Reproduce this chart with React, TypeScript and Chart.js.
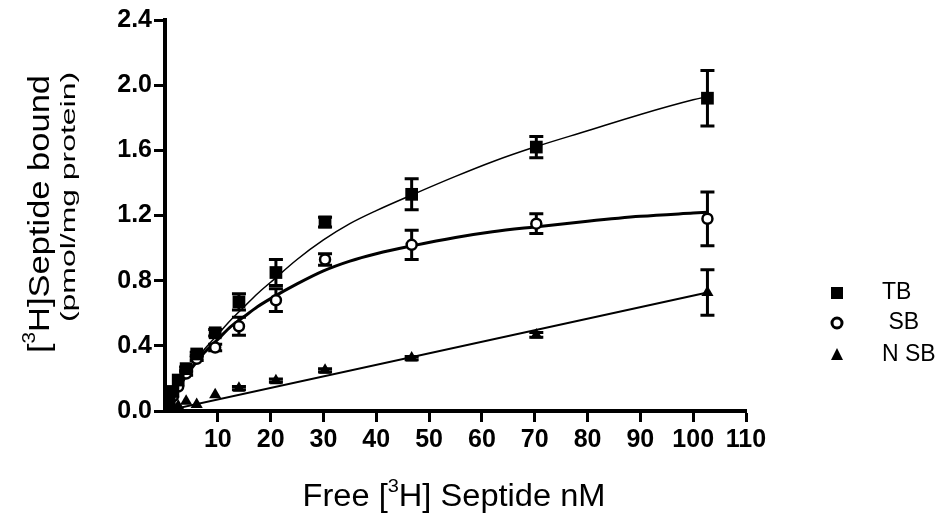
import React, { useEffect, useRef } from "react";
import { Chart, registerables } from "chart.js";

Chart.register(...registerables);

// ---- data ----
const xValues = [0.3, 0.8, 1.5, 2.5, 4, 6, 9.5, 14, 21, 30.3, 46.7, 70.3, 102.7];
const tbValues = [0.02, 0.06, 0.12, 0.19, 0.26, 0.35, 0.48, 0.67, 0.85, 1.16, 1.33, 1.62, 1.92];
const tbErrors = [0, 0, 0, 0, 0.01, 0.01, 0.02, 0.05, 0.08, 0.03, 0.095, 0.065, 0.17];
const sbValues = [0.01, 0.04, 0.09, 0.15, 0.23, 0.32, 0.39, 0.52, 0.68, 0.93, 1.02, 1.15, 1.18];
const sbErrors = [0, 0, 0, 0, 0.01, 0.01, 0.02, 0.055, 0.07, 0.035, 0.09, 0.06, 0.165];
const nsbValues = [0.005, 0.01, 0.02, 0.03, 0.06, 0.04, 0.1, 0.14, 0.186, 0.25, 0.325, 0.467, 0.727];
const nsbErrors = [0, 0, 0, 0, 0, 0, 0, 0.01, 0.01, 0.01, 0.01, 0.015, 0.14];

// fitted curves
const tbCurveX = [0, 1, 2, 3.5, 5, 7.5, 10, 12.5, 15, 17.5, 20, 25, 30, 35, 40, 47, 55, 62, 70, 80, 90, 100, 102.7];
const tbCurveY = [0, 0.06, 0.12, 0.2, 0.27, 0.38, 0.47, 0.56, 0.64, 0.72, 0.79, 0.93, 1.05, 1.15, 1.23, 1.33, 1.44, 1.53, 1.62, 1.72, 1.82, 1.91, 1.93];
const sbCurveX = [0, 1, 2, 3.5, 5, 7.5, 10, 12.5, 15, 17.5, 20, 25, 30, 35, 40, 47, 55, 62, 70, 80, 90, 100, 102.7];
const sbCurveY = [0, 0.06, 0.11, 0.19, 0.26, 0.36, 0.44, 0.52, 0.58, 0.64, 0.69, 0.78, 0.86, 0.92, 0.965, 1.015, 1.065, 1.1, 1.13, 1.165, 1.195, 1.215, 1.22];
const nsbLineX = [0, 102.7];
const nsbLineY = [0, 0.727];

const xTicks = [10, 20, 30, 40, 50, 60, 70, 80, 90, 100, 110];
const yTicks = [0, 0.4, 0.8, 1.2, 1.6, 2.0, 2.4];

const legendLabels = ["TB", " SB", "N SB"];
const xTitleParts = [{ t: "Free [" }, { t: "3", sup: true }, { t: "H] Septide nM" }];
const yTitleParts = [{ t: "[" }, { t: "3", sup: true }, { t: "H]Septide bound" }];
const yTitleSub = "(pmol/mg protein)";

const FONT = "'Liberation Sans', Arial, sans-serif";
const TICK_FONT = "'Liberation Sans Narrow', 'Liberation Sans', Arial, sans-serif";

type Part = { t: string; sup?: boolean };

function drawParts(ctx: CanvasRenderingContext2D, parts: Part[], size: number, targetLen: number) {
  const supSize = Math.round(size * 0.6);
  let total = 0;
  const widths: number[] = [];
  for (const p of parts) {
    ctx.font = `${p.sup ? supSize : size}px ${FONT}`;
    const w = ctx.measureText(p.t).width;
    widths.push(w);
    total += w;
  }
  const sx = targetLen / total;
  ctx.scale(sx, 1);
  let x = -total / 2;
  ctx.textBaseline = "alphabetic";
  ctx.textAlign = "left";
  parts.forEach((p, i) => {
    ctx.font = `${p.sup ? supSize : size}px ${FONT}`;
    ctx.fillText(p.t, x, p.sup ? size * 0.35 - size * 0.45 : size * 0.35);
    x += widths[i];
  });
}

const decorPlugin = {
  id: "decor",
  beforeDatasetsDraw(chart: any) {
    const { ctx, scales } = chart;
    const xs = scales.x;
    const ys = scales.y;
    ctx.save();
    ctx.strokeStyle = "#000";
    ctx.lineWidth = 3;
    const series = [
      [tbValues, tbErrors],
      [sbValues, sbErrors],
      [nsbValues, nsbErrors],
    ];
    for (const [vals, errs] of series) {
      vals.forEach((v: number, i: number) => {
        const e = errs[i];
        if (!e) return;
        const px = xs.getPixelForValue(xValues[i]);
        const top = ys.getPixelForValue(v + e);
        const bot = ys.getPixelForValue(v - e);
        ctx.beginPath();
        ctx.moveTo(px, top);
        ctx.lineTo(px, bot);
        ctx.moveTo(px - 7, top);
        ctx.lineTo(px + 7, top);
        ctx.moveTo(px - 7, bot);
        ctx.lineTo(px + 7, bot);
        ctx.stroke();
      });
    }
    ctx.restore();
  },
  afterDraw(chart: any) {
    const { ctx } = chart;
    ctx.save();
    ctx.fillStyle = "#000";
    // x title
    ctx.save();
    ctx.translate(454, 495);
    drawParts(ctx, xTitleParts, 31, 303);
    ctx.restore();
    // y title
    ctx.save();
    ctx.translate(38, 214);
    ctx.rotate(-Math.PI / 2);
    drawParts(ctx, yTitleParts, 30, 278);
    ctx.restore();
    ctx.save();
    ctx.translate(68, 197);
    ctx.rotate(-Math.PI / 2);
    drawParts(ctx, [{ t: yTitleSub }], 21, 250);
    ctx.restore();

    // legend
    const lx = 837;
    const ly = [293, 323, 355];
    ctx.font = `23px ${FONT}`;
    ctx.textBaseline = "middle";
    ctx.textAlign = "left";
    legendLabels.forEach((lab, i) => {
      ctx.fillText(lab, 882, ly[i]);
    });
    ctx.fillRect(lx - 6, ly[0] - 6, 12, 12);
    ctx.beginPath();
    ctx.arc(lx, ly[1], 5, 0, Math.PI * 2);
    ctx.lineWidth = 3;
    ctx.strokeStyle = "#000";
    ctx.fillStyle = "#fff";
    ctx.fill();
    ctx.stroke();
    ctx.fillStyle = "#000";
    ctx.beginPath();
    ctx.moveTo(lx, ly[2] - 7);
    ctx.lineTo(lx + 6, ly[2] + 5);
    ctx.lineTo(lx - 6, ly[2] + 5);
    ctx.closePath();
    ctx.fill();
    ctx.restore();
  },
};

function pts(xa: number[], ya: number[]) {
  return xa.map((x, i) => ({ x, y: ya[i] }));
}

export default function App() {
  const ref = useRef<HTMLCanvasElement | null>(null);
  useEffect(() => {
    document.body.style.margin = "0";
    if (!ref.current) return;
    const chart = new Chart(ref.current, {
      type: "scatter",
      data: {
        datasets: [
          {
            label: "TB",
            data: pts(xValues, tbValues),
            pointStyle: "rect",
            pointRadius: 9,
            backgroundColor: "#000",
            borderColor: "#000",
            borderWidth: 0,
            showLine: false,
          },
          {
            label: "SB",
            data: pts(xValues, sbValues),
            pointStyle: "circle",
            pointRadius: 5,
            backgroundColor: "#fff",
            borderColor: "#000",
            borderWidth: 2.5,
            showLine: false,
          },
          {
            label: "NSB",
            data: pts(xValues, nsbValues),
            pointStyle: "triangle",
            pointRadius: 7,
            backgroundColor: "#000",
            borderColor: "#000",
            borderWidth: 0,
            showLine: false,
          },
          {
            label: "TB fit",
            data: pts(tbCurveX, tbCurveY),
            showLine: true,
            pointRadius: 0,
            borderColor: "#000",
            borderWidth: 1.5,
            cubicInterpolationMode: "monotone",
          },
          {
            label: "SB fit",
            data: pts(sbCurveX, sbCurveY),
            showLine: true,
            pointRadius: 0,
            borderColor: "#000",
            borderWidth: 3,
            cubicInterpolationMode: "monotone",
          },
          {
            label: "NSB fit",
            data: pts(nsbLineX, nsbLineY),
            showLine: true,
            pointRadius: 0,
            borderColor: "#000",
            borderWidth: 2,
          },
        ],
      },
      options: {
        animation: false,
        responsive: true,
        maintainAspectRatio: false,
        layout: { padding: { left: 0, top: 20, right: 202, bottom: 0 } },
        plugins: { legend: { display: false }, tooltip: { enabled: false } },
        scales: {
          x: {
            type: "linear",
            min: 0,
            max: 110,
            afterBuildTicks: (s: any) => {
              s.ticks = xTicks.map((v) => ({ value: v }));
            },
            afterFit: (s: any) => {
              s.height = 105;
            },
            ticks: {
              color: "#000",
              font: { family: TICK_FONT, size: 25, weight: "bold" },
              padding: 3,
              maxRotation: 0,
              autoSkip: false,
              callback: (v: any) => String(v),
            },
            grid: {
              display: true,
              drawOnChartArea: false,
              drawTicks: true,
              tickLength: 11,
              tickWidth: 3,
              tickColor: "#000",
            },
            border: { display: true, color: "#000", width: 4 },
          },
          y: {
            type: "linear",
            min: 0,
            max: 2.4,
            afterBuildTicks: (s: any) => {
              s.ticks = yTicks.map((v) => ({ value: v }));
            },
            afterFit: (s: any) => {
              s.width = 165;
            },
            ticks: {
              color: "#000",
              font: { family: TICK_FONT, size: 25, weight: "bold" },
              padding: 2,
              autoSkip: false,
              callback: (v: any) => Number(v).toFixed(1),
            },
            grid: {
              display: true,
              drawOnChartArea: false,
              drawTicks: true,
              tickLength: 11,
              tickWidth: 3,
              tickColor: "#000",
            },
            border: { display: true, color: "#000", width: 4 },
          },
        },
      },
      plugins: [decorPlugin],
    });
    return () => chart.destroy();
  }, []);
  return (
    <div style={{ width: 948, height: 516, position: "relative", background: "#fff" }}>
      <canvas ref={ref} />
    </div>
  );
}
